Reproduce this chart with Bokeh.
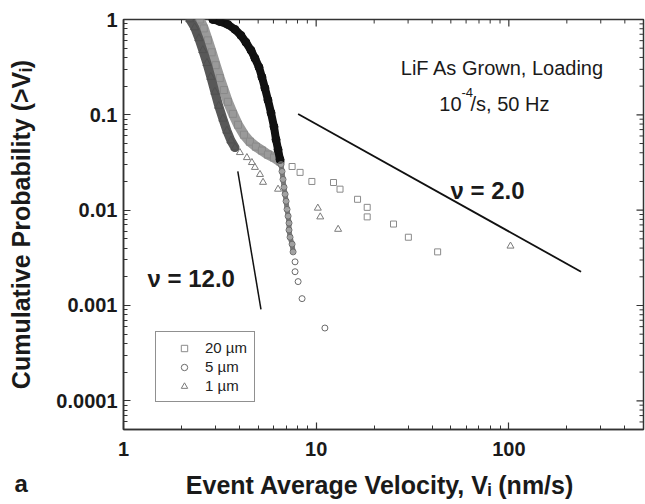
import math
from bokeh.plotting import figure
from bokeh.models import (FixedTicker, CustomJSTickFormatter, Label,
                          Legend, LegendItem, Range1d, Title)
from bokeh.embed import file_html
from bokeh.resources import INLINE

# ---------------- data ----------------
# 5 um: dense dark band, then its tail
v_5um_band = [2.91, 3.16, 3.48, 3.79, 4.07, 4.32, 4.59, 4.81, 5.05, 5.23, 5.42, 5.62, 5.83, 6.04, 6.19, 6.34, 6.49]
p_5um_band = [1.0, 0.953, 0.887, 0.787, 0.681, 0.576, 0.475, 0.392, 0.316, 0.249, 0.191, 0.143, 0.105, 0.075, 0.055, 0.0432, 0.034]
v_5um_tail = [6.57, 6.65, 6.73, 6.81, 6.90, 6.98, 7.06, 7.15, 7.23, 7.23, 7.32, 7.50, 7.59, 7.77, 7.77, 8.06, 8.45, 11.1]
p_5um_tail = [0.0301, 0.0255, 0.021, 0.0174, 0.0147, 0.0124, 0.0102, 0.00866, 0.00732, 0.00619, 0.0052, 0.0044, 0.00365, 0.00287, 0.00226, 0.00178, 0.00118, 0.00058]

# 20 um
v_20um_band = [2.49, 2.61, 2.74, 2.87, 3.01, 3.16, 3.32, 3.48, 3.70, 3.93, 4.22, 4.53, 4.87, 5.23, 5.62, 6.04, 6.49]
p_20um_band = [1.0, 0.806, 0.604, 0.453, 0.332, 0.243, 0.182, 0.137, 0.1024, 0.0787, 0.0619, 0.0523, 0.0464, 0.0422, 0.0383, 0.0356, 0.0324]
v_20um_tail = [7.50, 8.25, 9.5, 12.3, 13.3, 16.4, 18.4, 18.4, 25.2, 30.1, 42.7]
p_20um_tail = [0.0287, 0.0249, 0.020, 0.0195, 0.0166, 0.013, 0.0107, 0.0085, 0.00715, 0.0052, 0.00365]

# 1 um
v_1um_band = [2.21, 2.34, 2.46, 2.58, 2.71, 2.84, 2.98, 3.12, 3.28, 3.44, 3.61, 3.79]
p_1um_band = [1.0, 0.825, 0.634, 0.475, 0.348, 0.249, 0.174, 0.124, 0.0908, 0.068, 0.0536, 0.0453]
v_1um_tail = [4.02, 4.37, 4.64, 4.81, 5.11, 5.30, 6.34, 10.2, 10.5, 13.0, 102]
p_1um_tail = [0.0402, 0.0356, 0.0316, 0.0281, 0.0237, 0.0196, 0.0166, 0.0105, 0.0085, 0.0063, 0.0042]

# guide lines
nu2_v = [8.06, 237]
nu2_p = [0.102, 0.00226]
nu12_v = [3.92, 5.17]
nu12_p = [0.0255, 0.00091]

x_major = [1, 10, 100]
y_major = [1e-4, 1e-3, 1e-2, 1e-1, 1]

# ---------------- layout ----------------
W, H = 645, 504
XL, XR, YT, YB = 123, 643, 19, 429
X0, X1, Y0, Y1 = 1, 500, 5e-5, 1


def dx(px):
    return 10 ** (math.log10(X0) + (px - XL) / (XR - XL) * (math.log10(X1) - math.log10(X0)))


def dy(py):
    return 10 ** (math.log10(Y0) + (YB - py) / (YB - YT) * (math.log10(Y1) - math.log10(Y0)))


p = figure(width=W, height=H, x_axis_type="log", y_axis_type="log",
           x_range=Range1d(X0, X1), y_range=Range1d(Y0, Y1),
           output_backend="svg", toolbar_location=None,
           min_border_left=XL, min_border_right=W - XR,
           min_border_top=YT, min_border_bottom=H - YB)
p.grid.visible = False
p.outline_line_color = "#333333"
p.outline_line_width = 1.5
p.background_fill_color = "white"
p.border_fill_color = "white"

x_minor = [k * 10 ** e for e in range(0, 3) for k in range(2, 10) if k * 10 ** e <= X1]
y_minor = [k * 10.0 ** e for e in range(-5, 0) for k in range(2, 10) if k * 10.0 ** e >= Y0]
xt = FixedTicker(ticks=x_major, minor_ticks=x_minor)
yt = FixedTicker(ticks=y_major, minor_ticks=y_minor)
fmt = CustomJSTickFormatter(code="return tick >= 1 ? tick.toFixed(0) : String(Number(tick.toPrecision(1)));")


def style(ax, ticker, standoff):
    ax.ticker = ticker
    ax.formatter = fmt
    ax.major_tick_in = 7
    ax.major_tick_out = 0
    ax.minor_tick_in = 4
    ax.minor_tick_out = 0
    ax.axis_line_color = "#333333"
    ax.axis_line_width = 1.5
    ax.major_tick_line_color = "#333333"
    ax.major_tick_line_width = 1.2
    ax.minor_tick_line_color = "#333333"
    ax.minor_tick_line_width = 1
    ax.major_label_text_font = "Liberation Sans"
    ax.major_label_text_font_style = "bold"
    ax.major_label_text_font_size = "20px"
    ax.major_label_text_color = "#1a1a1a"
    ax.major_label_standoff = standoff
    ax.axis_label_text_font = "Liberation Sans"
    ax.axis_label_text_font_style = "bold"
    ax.axis_label_text_font_size = "25px"
    ax.axis_label_text_color = "#1a1a1a"


style(p.xaxis[0], xt, 12)
style(p.yaxis[0], yt, 6)
p.xaxis[0].axis_label = "Event Average Velocity, V\u1d62  (nm/s)"
p.xaxis[0].axis_label_standoff = 12
p.yaxis[0].axis_label = "Cumulative Probability (>V\u1d62)"
p.yaxis[0].axis_label_standoff = 18

# mirrored frame ticks on the top and right edges, drawn from the tick values
fx_major = 10 ** (7 * math.log10(X1 / X0) / (XR - XL))
fx_minor = 10 ** (4 * math.log10(X1 / X0) / (XR - XL))
fy_major = 10 ** (7 * math.log10(Y1 / Y0) / (YB - YT))
fy_minor = 10 ** (4 * math.log10(Y1 / Y0) / (YB - YT))
p.segment(x0=[X1 / fx_major] * len(y_major), y0=y_major, x1=[X1] * len(y_major), y1=y_major,
          line_color="#333333", line_width=1.2)
p.segment(x0=[X1 / fx_minor] * len(y_minor), y0=y_minor, x1=[X1] * len(y_minor), y1=y_minor,
          line_color="#333333", line_width=1)
p.segment(x0=x_major, y0=[Y1 / fy_major] * len(x_major), x1=x_major, y1=[Y1] * len(x_major),
          line_color="#333333", line_width=1.2)
p.segment(x0=x_minor, y0=[Y1 / fy_minor] * len(x_minor), x1=x_minor, y1=[Y1] * len(x_minor),
          line_color="#333333", line_width=1)

# dense bands (overlapping markers)
p.line(v_20um_band, p_20um_band, line_width=10, line_color="#9a9a9a", line_cap="round", line_join="round")
p.scatter(v_20um_band, p_20um_band, marker="square", size=7, fill_color="#9a9a9a", line_color="#8a8a8a")
p.line(v_1um_band, p_1um_band, line_width=9, line_color="#585858", line_cap="round", line_join="round")
p.scatter(v_1um_band, p_1um_band, marker="triangle", size=8, fill_color="#585858", line_color="#505050")
p.line(v_5um_tail[:13], p_5um_tail[:13], line_width=5, line_color="#7a7a7a", line_cap="round", line_join="round")
p.line(v_5um_band, p_5um_band, line_width=8, line_color="#111111", line_cap="round", line_join="round")
p.scatter(v_5um_band, p_5um_band, marker="circle", size=8, fill_color="#111111", line_color="#111111")

# open markers of the tails
r20 = p.scatter(v_20um_tail, p_20um_tail, marker="square", size=6,
                fill_color="white", fill_alpha=0.6, line_color="#8a8a8a", line_width=1)
r1 = p.scatter(v_1um_tail, p_1um_tail, marker="triangle", size=7,
               fill_color="white", fill_alpha=0.6, line_color="#7a7a7a", line_width=1)
r5 = p.scatter(v_5um_tail, p_5um_tail, marker="circle", size=6,
               fill_color="white", fill_alpha=0.3, line_color="#6a6a6a", line_width=1)

# guide lines
p.line(nu2_v, nu2_p, line_width=1.8, line_color="#111111")
p.line(nu12_v, nu12_p, line_width=1.5, line_color="#111111")

legend = Legend(items=[LegendItem(label="20 \u00b5m", renderers=[r20]),
                       LegendItem(label="5 \u00b5m", renderers=[r5]),
                       LegendItem(label="1 \u00b5m", renderers=[r1])],
                location=(32, 27), border_line_color="#222222", border_line_width=1.5,
                background_fill_color="white", background_fill_alpha=1,
                label_text_font="Liberation Sans", label_text_font_size="15px",
                label_text_color="#222222", glyph_width=42, glyph_height=16,
                label_height=17, label_standoff=0, spacing=2, padding=7, margin=0)
p.add_layout(legend, "center")


def lab(text, px, py, size, style="normal", align="left", angle=0.0, color="#1a1a1a"):
    p.add_layout(Label(x=dx(px), y=dy(py), text=text, text_font="Liberation Sans",
                       text_font_size=size, text_font_style=style, text_align=align,
                       text_baseline="alphabetic", angle=angle, text_color=color))


# annotations
lab("LiF As Grown, Loading", 502, 67, "20px", align="center")
lab("10", 461, 103, "20px", align="right")
lab("-4", 461, 92, "13px")
lab("/s, 50 Hz", 470, 103, "20px")
lab("\u03bd = 2.0", 450, 190, "24px", style="bold")
lab("\u03bd = 12.0", 147, 278, "24px", style="bold")

# panel letter, in the bottom side panel (outside the frame)
p.add_layout(Title(text="a", align="left", vertical_align="top", offset=14 - XL, standoff=-64,
                   text_font="Liberation Sans", text_font_size="24px", text_font_style="bold",
                   text_color="#1a1a1a"), "below")

open("out.html", "w").write(file_html(p, INLINE))
